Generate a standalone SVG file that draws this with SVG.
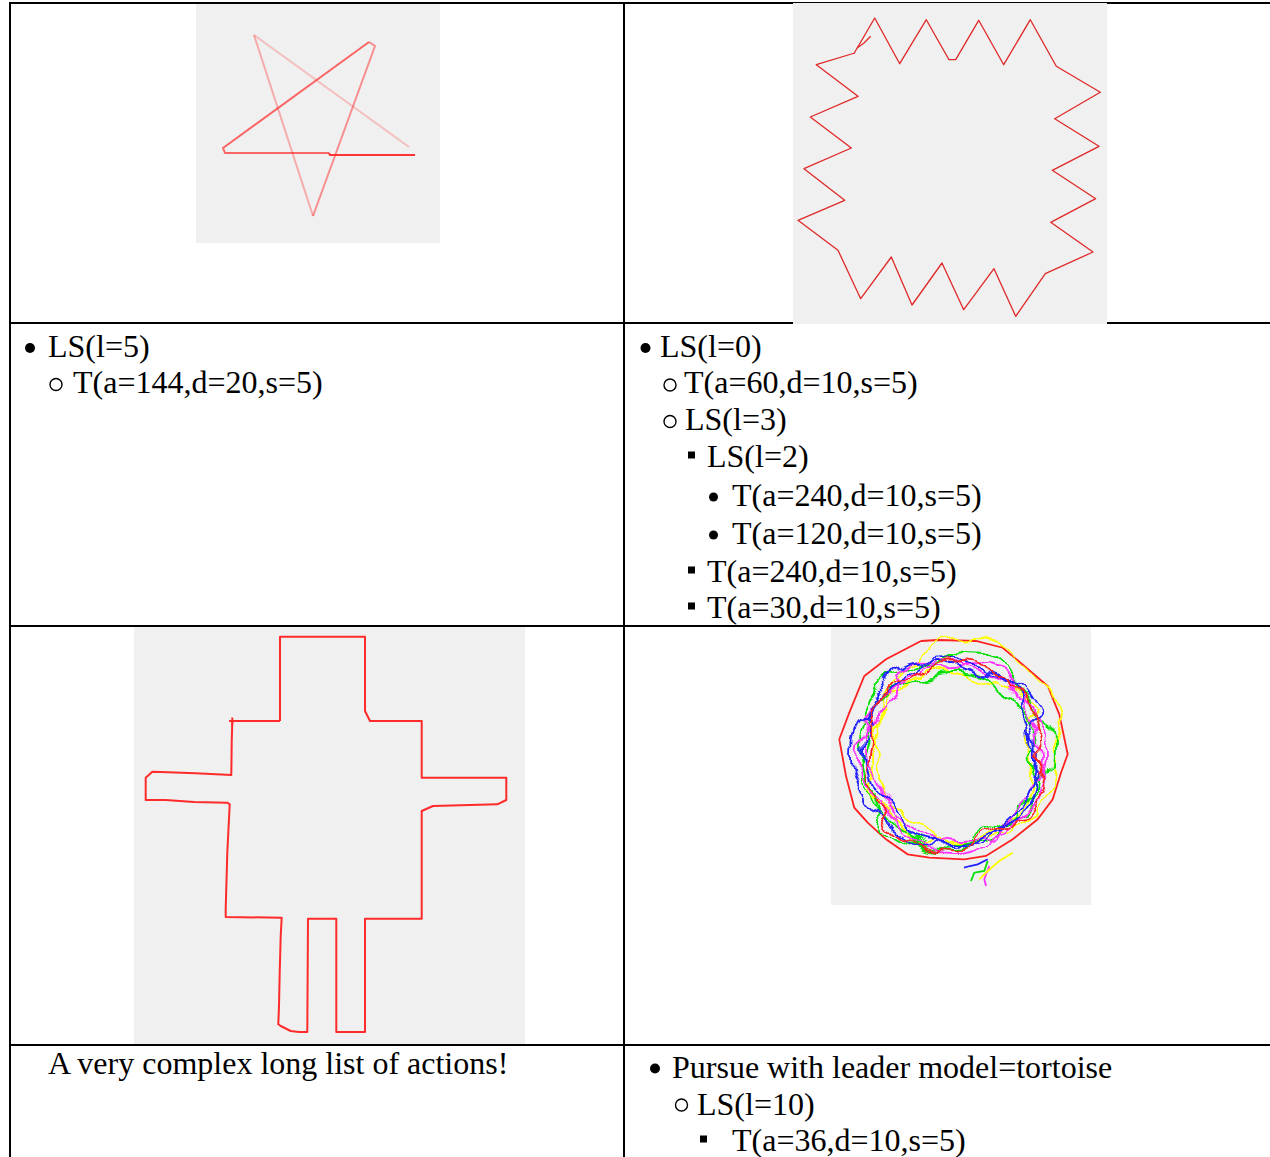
<svg xmlns="http://www.w3.org/2000/svg" width="1270" height="1157" viewBox="0 0 1270 1157">
  <style>
    .grid { stroke: #000; stroke-width: 2; fill: none; }
    .canvas { fill: #f0f0f0; }
    .txt { font-family: "Liberation Serif", "Times New Roman", serif; font-size: 32px; fill: #000; }
    .dot { fill: #000; }
    .ring { fill: none; stroke: #000; stroke-width: 1.4; }
    .trail { fill: none; stroke: #ff2a2a; stroke-width: 2; stroke-linejoin: round; }
    .thin { fill: none; stroke: #e02828; stroke-width: 1.3; stroke-linejoin: round; }
    .loop { fill: none; stroke-width: 1.8; }
  </style>
  <defs>
    <filter id="w1" x="-0.3" y="-0.3" width="1.6" height="1.6"><feTurbulence type="fractalNoise" baseFrequency="0.022" numOctaves="3" seed="1"/><feDisplacementMap in="SourceGraphic" scale="34" xChannelSelector="R" yChannelSelector="G"/></filter>
    <filter id="w2" x="-0.3" y="-0.3" width="1.6" height="1.6"><feTurbulence type="fractalNoise" baseFrequency="0.022" numOctaves="3" seed="7"/><feDisplacementMap in="SourceGraphic" scale="34" xChannelSelector="R" yChannelSelector="G"/></filter>
    <filter id="w3" x="-0.3" y="-0.3" width="1.6" height="1.6"><feTurbulence type="fractalNoise" baseFrequency="0.022" numOctaves="3" seed="13"/><feDisplacementMap in="SourceGraphic" scale="34" xChannelSelector="R" yChannelSelector="G"/></filter>
    <filter id="w4" x="-0.3" y="-0.3" width="1.6" height="1.6"><feTurbulence type="fractalNoise" baseFrequency="0.022" numOctaves="3" seed="21"/><feDisplacementMap in="SourceGraphic" scale="34" xChannelSelector="R" yChannelSelector="G"/></filter>
    <filter id="w5" x="-0.3" y="-0.3" width="1.6" height="1.6"><feTurbulence type="fractalNoise" baseFrequency="0.022" numOctaves="3" seed="34"/><feDisplacementMap in="SourceGraphic" scale="34" xChannelSelector="R" yChannelSelector="G"/></filter>
    <filter id="w6" x="-0.3" y="-0.3" width="1.6" height="1.6"><feTurbulence type="fractalNoise" baseFrequency="0.022" numOctaves="3" seed="55"/><feDisplacementMap in="SourceGraphic" scale="34" xChannelSelector="R" yChannelSelector="G"/></filter>
  </defs>

  <rect width="1270" height="1157" fill="#fff"/>

  <!-- table rules -->
  <g id="grid" class="grid">
    <line x1="9" y1="3" x2="1270" y2="3"/>
    <line x1="9" y1="323" x2="1270" y2="323"/>
    <line x1="9" y1="626" x2="1270" y2="626"/>
    <line x1="9" y1="1045" x2="1270" y2="1045"/>
    <line x1="10" y1="2" x2="10" y2="1157"/>
    <line x1="624" y1="2" x2="624" y2="1157"/>
  </g>

  <!-- five-pointed star trail, older strokes fading -->
  <g id="cell-star">
    <rect class="canvas" x="196" y="4" width="244" height="239"/>
    <polyline class="trail" stroke-opacity="0.25" points="409,147 254,35"/>
    <polyline class="trail" stroke-opacity="0.35" points="254,35 313,216"/>
    <polyline class="trail" stroke-opacity="0.5" points="313,216 375,46 369,42"/>
    <polyline class="trail" stroke-opacity="0.7" points="369,42 223,148 225,153 329,153"/>
    <polyline class="trail" stroke-opacity="0.95" points="329,153 330,155 415,155"/>
  </g>

  <!-- jagged square trail -->
  <g id="cell-zigzag">
    <rect class="canvas" x="793" y="3" width="314" height="321"/>
    <polyline class="thin" points="854.7,53 816.3,64.7 858,96.3 810.3,117 851.3,148 804,168.7 844.7,200.3 798,220.3 838,250.3 860.7,298.7 891.3,257 912,305 942,263 963.7,309.7 994,268.7 1015.7,316.3 1045.3,273.7 1093,252 1050.7,222.3 1095.7,198.7 1052.3,170.3 1099,146.3 1054.7,118.7 1100.3,92.3 1056.3,66.3 1030.3,19.7 1003.7,64.7 978.7,20.3 955.7,59.7 949,59.7 926.3,19.7 899.7,63.7 874.7,18 853.7,54"/>
    <polyline class="thin" points="857,48 864,43 870.7,36.3"/>
  </g>

  <!-- action lists under the first row -->
  <g id="cell-list-star">
    <circle class="dot" cx="30" cy="348" r="5"/>
    <text class="txt" x="48" y="357">LS(l=5)</text>
    <circle class="ring" cx="56" cy="384.5" r="6"/>
    <text class="txt" x="73" y="393">T(a=144,d=20,s=5)</text>
  </g>

  <g id="cell-list-zigzag">
    <circle class="dot" cx="645.5" cy="348" r="5"/>
    <text class="txt" x="660" y="357">LS(l=0)</text>
    <circle class="ring" cx="670" cy="385" r="6"/>
    <text class="txt" x="684" y="393">T(a=60,d=10,s=5)</text>
    <circle class="ring" cx="670" cy="421.5" r="6"/>
    <text class="txt" x="685" y="430">LS(l=3)</text>
    <rect class="dot" x="688" y="451.5" width="7" height="7"/>
    <text class="txt" x="707" y="467">LS(l=2)</text>
    <circle class="dot" cx="713.5" cy="497" r="4.5"/>
    <text class="txt" x="732" y="506">T(a=240,d=10,s=5)</text>
    <circle class="dot" cx="713.5" cy="535" r="4.5"/>
    <text class="txt" x="732" y="544">T(a=120,d=10,s=5)</text>
    <rect class="dot" x="688" y="566.5" width="7" height="7"/>
    <text class="txt" x="707" y="582">T(a=240,d=10,s=5)</text>
    <rect class="dot" x="688" y="602.5" width="7" height="7"/>
    <text class="txt" x="707" y="618">T(a=30,d=10,s=5)</text>
  </g>

  <!-- stick figure outline -->
  <g id="cell-robot">
    <rect class="canvas" x="134" y="627" width="391" height="417"/>
    <polyline class="trail" stroke="#f02020" stroke-width="1.6" points="280,721 280,636.7 365,636.7 365,711 370,721 421.7,721 421.7,777.7 506.3,777.7 506.3,800 497.3,804.3 433,806 421.7,811 421.7,918.7 365,918.7 365,1032 336.3,1032 336.3,918.7 308,918.7 307.3,1032 299,1032 290.7,1031 280.7,1026 278.3,1024.3 279,1006 279.7,972.7 280.7,936 281.7,917.7 225.7,917 225.7,909.3 227.3,852.7 228.3,832.7 229.7,804.3 227.3,802.7 194,802 165.7,800 145.7,800 145.7,777.7 152.3,771.7 160.7,772 195.7,773.3 231.3,775 231.7,742.7 232.3,721 280,721"/>
    <polyline class="trail" stroke="#f02020" stroke-width="1.3" points="229,721 235,721"/>
    <polyline class="trail" stroke="#f02020" stroke-width="1.3" points="232.3,717.5 232.3,724.5"/>
  </g>

  <!-- pursuit trails circling the leader -->
  <g id="cell-circle">
    <rect class="canvas" x="831" y="627" width="260" height="278"/>
    <polyline class="loop" stroke="#ff2020" points="921,641 937.7,640 976,641 1002.7,647.7 1024.3,666 1047.7,686 1059.3,714.3 1067.7,754.3 1061,772.7 1052.7,799.3 1037.7,819.3 1012.7,839.3 986,856 964.3,859.3 929.3,857.7 907.7,854.3 886,839.3 867.7,822.7 854.3,807.7 846,776 839.3,739.3 849.3,712.7 864.3,676 886,659.3 921,641"/>
    <ellipse class="loop" stroke="#ffff00" cx="966" cy="742" rx="92" ry="103" filter="url(#w1)"/>
    <ellipse class="loop" stroke="#ffff00" cx="952" cy="757" rx="84" ry="88" filter="url(#w4)"/>
    <ellipse class="loop" stroke="#00e000" cx="955" cy="748" rx="94" ry="95" filter="url(#w2)"/>
    <ellipse class="loop" stroke="#00e000" cx="950" cy="760" rx="88" ry="86" filter="url(#w5)"/>
    <ellipse class="loop" stroke="#ff30ff" cx="958" cy="752" rx="88" ry="90" filter="url(#w3)"/>
    <ellipse class="loop" stroke="#ff30ff" cx="953" cy="758" rx="92" ry="92" filter="url(#w6)"/>
    <ellipse class="loop" stroke="#2020ff" cx="948" cy="754" rx="92" ry="94" filter="url(#w4)"/>
    <ellipse class="loop" stroke="#2020ff" cx="952" cy="752" rx="86" ry="90" filter="url(#w6)"/>
    <ellipse class="loop" stroke="#ff2020" cx="956" cy="755" rx="88" ry="92" filter="url(#w5)"/>
    <polyline class="loop" stroke="#2020ff" points="964,867.7 970,866 977.7,864.3 987.7,859.3"/>
    <polyline class="loop" stroke="#00e000" points="971,881 974.3,872.7 984.3,871 987.7,861"/>
    <polyline class="loop" stroke="#ff30ff" points="986,886 984.3,879.3 989.3,866"/>
    <polyline class="loop" stroke="#ffff00" points="979.3,879.3 987.7,871 999.3,861 1012.7,852.7"/>
  </g>

  <g id="cell-text-robot">
    <text class="txt" x="48" y="1074">A very complex long list of actions!</text>
  </g>

  <g id="cell-list-pursue">
    <circle class="dot" cx="655" cy="1068.5" r="5"/>
    <text class="txt" x="672" y="1078">Pursue with leader model=tortoise</text>
    <circle class="ring" cx="681.5" cy="1105" r="6"/>
    <text class="txt" x="697" y="1115">LS(l=10)</text>
    <rect class="dot" x="700" y="1135.5" width="7" height="7"/>
    <text class="txt" x="732" y="1151">T(a=36,d=10,s=5)</text>
  </g>
</svg>
